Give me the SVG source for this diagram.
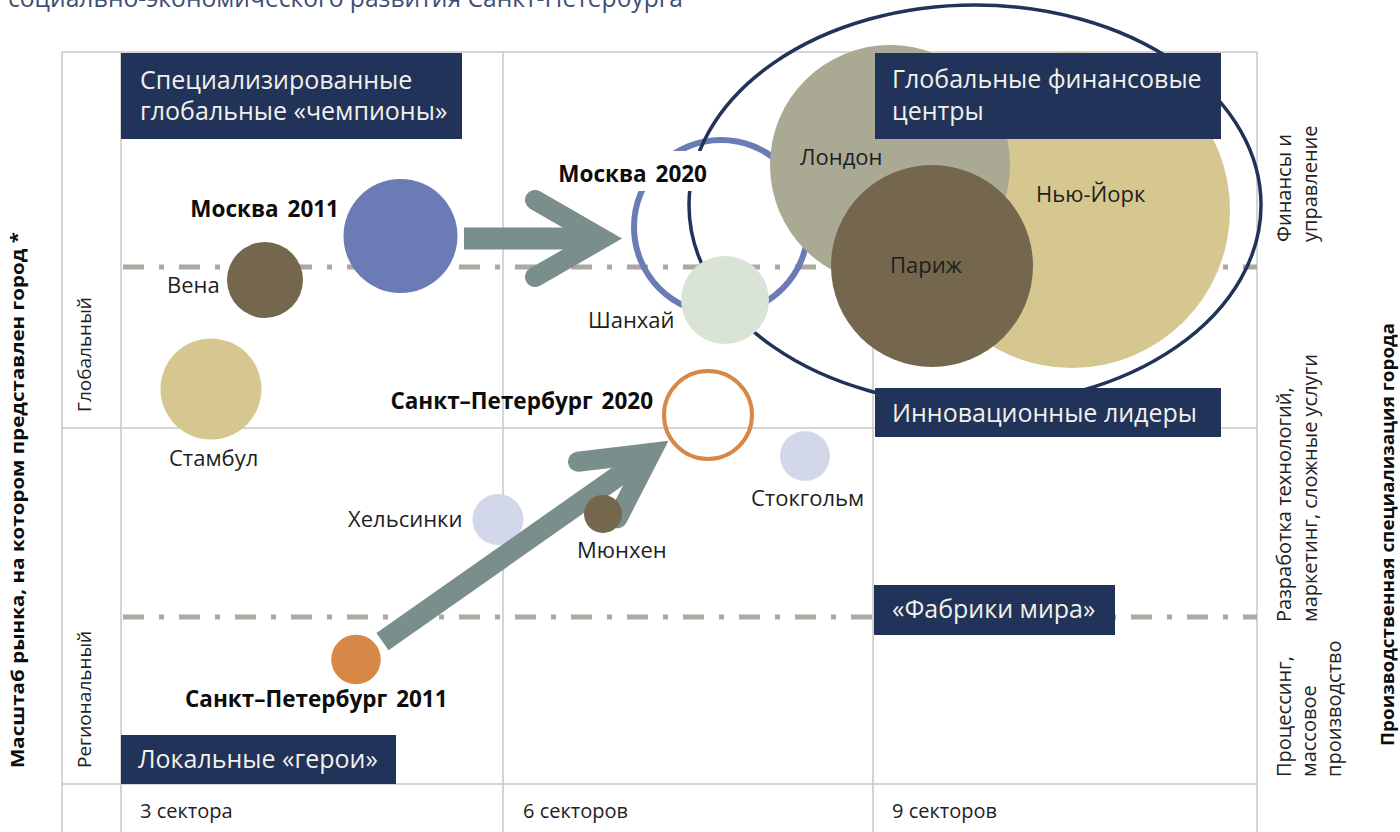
<svg xmlns="http://www.w3.org/2000/svg" width="1400" height="832" viewBox="0 0 1400 832">
<style>
text{font-family:"Open Sans","Noto Sans","Liberation Sans",sans-serif;}
.grid{stroke:#c8c8c8;stroke-width:1.5;fill:none;}
.dash{stroke:#aca8a2;stroke-width:5;stroke-dasharray:21 15 5 15;fill:none;}
.box{fill:#213358;}
.bt{fill:#f2f0ea;font-size:25px;}
.lbl{fill:#1e1e1e;font-size:22px;}
.bold{fill:#0d0d0d;font-size:22.5px;font-weight:700;word-spacing:3px;}
.ax{fill:#222;font-size:20px;}
.axl{fill:#222;font-size:19px;}
.bot{fill:#222;font-size:20px;}
.axt{fill:#0d0d0d;font-size:17px;font-weight:700;}
.arr{fill:none;stroke:#7a8e8c;}
</style>
<text x="8" y="7" fill="#3f4e75" font-size="26" textLength="675" lengthAdjust="spacingAndGlyphs">социально-экономического развития Санкт-Петербурга</text>
<g id="grid">
<path class="grid" d="M62,52V832M121,52V832M503,52V832M873,52V832M1257,52V832M62,52H1257M62,428H1257M62,784H1257"/>
<path class="dash" d="M123,267H1257"/>
<path class="dash" d="M123,617H1257"/>
</g>
<g id="istanbul"><circle cx="211" cy="389" r="50.5" fill="#d6c68f"/><text class="lbl" x="169" y="466">Стамбул</text></g>
<g id="vena"><circle cx="265" cy="280" r="38" fill="#75674d"/><text class="lbl" x="167" y="293">Вена</text></g>
<g id="moscow2011"><circle cx="400.5" cy="236" r="57" fill="#6b7bb5"/><text class="bold" x="339" y="217" text-anchor="end">Москва 2011</text></g>
<g id="moscow2020"><circle cx="721" cy="227" r="87" fill="none" stroke="#6b7bb5" stroke-width="6"/></g>
<g id="finance-ellipse"><ellipse cx="975" cy="205" rx="286" ry="200" fill="none" stroke="#213358" stroke-width="3.5"/></g>
<g id="moscow2020-label"><rect x="548" y="151" width="164" height="40" fill="#fff"/><text class="bold" x="707" y="182" text-anchor="end">Москва 2020</text></g>
<g id="shanghai"><circle cx="725" cy="300" r="44" fill="#d9e4d6"/><text class="lbl" x="588" y="328">Шанхай</text></g>
<g id="newyork"><circle cx="1072" cy="210" r="158" fill="#d6c790"/><text class="lbl" x="1036" y="202">Нью-Йорк</text></g>
<g id="london"><circle cx="890" cy="165" r="120" fill="#a9a994"/><text class="lbl" x="800" y="165" fill="#f1efe8">Лондон</text></g>
<g id="paris"><circle cx="932" cy="266" r="101" fill="#75674d"/><text class="lbl" x="890" y="273" fill="#f4f2ec">Париж</text></g>
<g id="helsinki"><circle cx="498" cy="519.5" r="25.5" fill="#d3d7ea"/><text class="lbl" x="348" y="527">Хельсинки</text></g>
<g id="stockholm"><circle cx="805" cy="456" r="25" fill="#d3d7ea"/><text class="lbl" x="751" y="506">Стокгольм</text></g>
<g id="spb2020"><circle cx="708" cy="415" r="44" fill="none" stroke="#d68847" stroke-width="4"/><text class="bold" x="653" y="409" text-anchor="end">Санкт–Петербург 2020</text></g>
<g id="connectors">
<path class="arr" stroke-width="22" d="M464,238.5H602"/>
<path class="arr" stroke-width="20" stroke-linecap="round" stroke-linejoin="miter" d="M535,200L602,238.5L535,277"/>
<path class="arr" stroke-width="21" d="M382.5,641.7L651,453"/>
<path class="arr" stroke-width="20" stroke-linecap="round" stroke-linejoin="miter" d="M578,461.7L651,453L617.4,518.3"/>
</g>
<g id="munich"><circle cx="603" cy="514" r="19" fill="#75674d"/><text class="lbl" x="577" y="558">Мюнхен</text></g>
<g id="spb2011"><circle cx="356" cy="659.5" r="26" fill="#d68847" stroke="#fff" stroke-width="2.5"/><text class="bold" x="185" y="707">Санкт–Петербург 2011</text></g>
<g id="box-champions"><rect class="box" x="121" y="53" width="341" height="86"/><text class="bt" x="140" y="89">Специализированные</text><text class="bt" x="140" y="120">глобальные «чемпионы»</text></g>
<g id="box-finance"><rect class="box" x="875" y="53" width="346" height="86"/><text class="bt" x="892" y="88">Глобальные финансовые</text><text class="bt" x="892" y="120">центры</text></g>
<g id="box-innovation"><rect class="box" x="875" y="388" width="346" height="49"/><text class="bt" x="892" y="422">Инновационные лидеры</text></g>
<g id="box-factories"><rect class="box" x="874" y="585" width="241" height="50"/><text class="bt" x="892" y="618">«Фабрики мира»</text></g>
<g id="box-local"><rect class="box" x="121" y="735" width="275" height="49"/><text class="bt" x="138" y="768">Локальные «герои»</text></g>
<g id="axis-labels">
<text class="axl" transform="translate(91,412) rotate(-90)">Глобальный</text>
<text class="axl" transform="translate(91,768) rotate(-90)">Региональный</text>
<text class="axt" transform="translate(24,768) rotate(-90)" textLength="536" lengthAdjust="spacingAndGlyphs">Масштаб рынка, на котором представлен город *</text>
<text class="bot" x="140" y="818">3 сектора</text>
<text class="bot" x="523" y="818">6 секторов</text>
<text class="bot" x="892" y="818">9 секторов</text>
<text class="ax" transform="translate(1291,242) rotate(-90)">Финансы и</text>
<text class="ax" transform="translate(1317,242) rotate(-90)">управление</text>
<text class="ax" transform="translate(1291,622) rotate(-90)">Разработка технологий,</text>
<text class="ax" transform="translate(1317,622) rotate(-90)">маркетинг, сложные услуги</text>
<text class="ax" transform="translate(1291,777) rotate(-90)">Процессинг,</text>
<text class="ax" transform="translate(1316,777) rotate(-90)">массовое</text>
<text class="ax" transform="translate(1341,777) rotate(-90)">производство</text>
<text class="axt" transform="translate(1394,746) rotate(-90)" textLength="423" lengthAdjust="spacingAndGlyphs">Производственная специализация города</text>
</g>
</svg>
